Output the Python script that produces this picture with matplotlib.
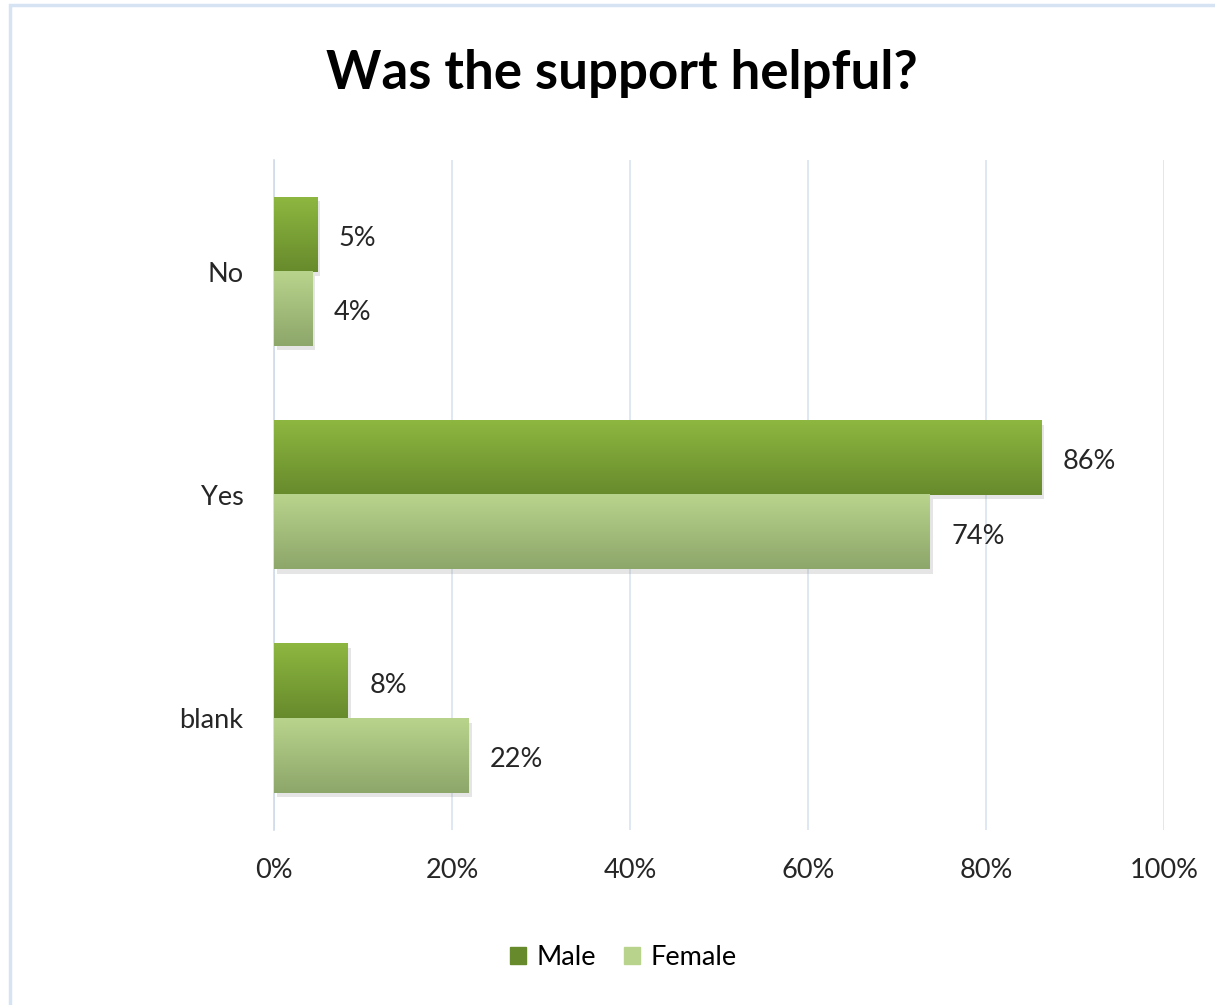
import numpy as np
import matplotlib
matplotlib.use("Agg")
import matplotlib.pyplot as plt
from matplotlib.patches import Rectangle
from matplotlib.colors import LinearSegmentedColormap
import matplotlib.patheffects as pe

categories = ["No", "Yes", "blank"]
male = [0.049, 0.862, 0.083]
female = [0.043, 0.737, 0.219]
series_names = ["Male", "Female"]
xticks = [0, 0.2, 0.4, 0.6, 0.8, 1.0]

plt.rcParams['font.family'] = ['Lato', 'DejaVu Sans']

male_top, male_bot = "#8db740", "#678a2c"
fem_top, fem_bot = "#b8d48c", "#8da66a"

fig = plt.figure(figsize=(12.15, 10.05), dpi=100)
ax = fig.add_axes([0.2255, 0.1741, 0.7325, 0.6667])

# outer chart border (cut off at right/bottom like the screenshot)
fig.patches.append(Rectangle((10 / 1215, -0.05), 1.2, 1 - 5 / 1005 + 0.05,
                             transform=fig.transFigure, fill=False,
                             edgecolor="#d6e3f3", linewidth=2.5, zorder=0))

y = np.arange(len(categories))
h = 0.333
bars_m = ax.barh(y - h / 2, male, height=h, color=male_bot, label=series_names[0], zorder=3)
bars_f = ax.barh(y + h / 2, female, height=h, color=fem_top, label=series_names[1], zorder=3)


def gradient(bars, top, bot):
    cmap = LinearSegmentedColormap.from_list("g", [top, bot])
    grad = np.linspace(0, 1, 100).reshape(-1, 1)
    for b in bars:
        x0, y0 = b.get_x(), b.get_y()
        w, hh = b.get_width(), b.get_height()
        b.set_path_effects([pe.SimplePatchShadow(offset=(2, -3), shadow_rgbFace="#999999", alpha=0.25),
                            pe.Normal()])
        ax.imshow(grad, cmap=cmap, aspect="auto", extent=(x0, x0 + w, y0 + hh, y0),
                  zorder=4, interpolation="bicubic")


gradient(bars_m, male_top, male_bot)
gradient(bars_f, fem_top, fem_bot)

for b, v in zip(list(bars_m) + list(bars_f), male + female):
    ax.text(b.get_width() + 0.024, b.get_y() + b.get_height() / 2 + 0.018, f"{v * 100:.0f}%",
            va="center", ha="left", fontsize=19.5, color="#262626", zorder=5)

ax.set_xlim(0, 1)
ax.set_ylim(2.5, -0.5)
ax.set_xticks(xticks)
ax.set_xticklabels([f"{int(t * 100)}%" for t in xticks])
ax.set_yticks(y)
ax.set_yticklabels(categories)
ax.tick_params(length=0, labelsize=19.5, labelcolor="#262626")
ax.tick_params(axis="x", pad=20)
ax.tick_params(axis="y", pad=22)
ax.grid(axis="x", color="#d9e3f0", linewidth=1.2, zorder=0)
for s in ["top", "right", "bottom"]:
    ax.spines[s].set_visible(False)
ax.spines["left"].set_color("#d0dceb")
ax.spines["left"].set_linewidth(1.2)

fig.text(0.512, 0.927, "Was the support helpful?", ha="center", va="center",
         fontsize=38, fontweight="bold", color="black")

leg = fig.legend(handles=[Rectangle((0, 0), 1, 1, color=male_bot),
                          Rectangle((0, 0), 1, 1, color=fem_top)],
                 labels=series_names, loc="center", bbox_to_anchor=(0.513, 0.047),
                 ncol=2, frameon=False, fontsize=19.5, handlelength=0.6, handleheight=0.6,
                 handletextpad=0.4, columnspacing=1.0)

fig.savefig("out.png", dpi=100)
